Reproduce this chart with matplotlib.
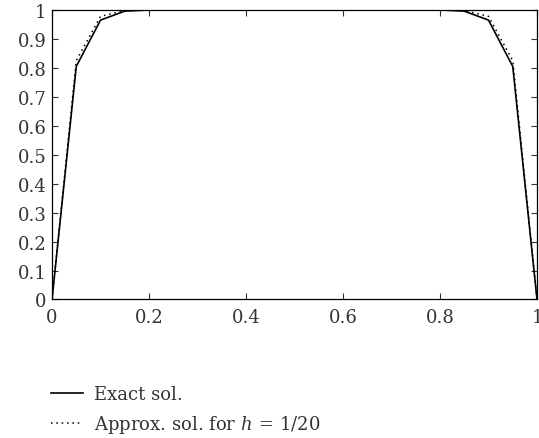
import numpy as np
import matplotlib
matplotlib.use('Agg')
import matplotlib.pyplot as plt

plt.rcParams['font.family'] = 'DejaVu Serif'
plt.rcParams['mathtext.fontset'] = 'dejavuserif'

# grid nodes, h = 1/20
x = np.linspace(0.0, 1.0, 21)
exact = [0.0, 0.805, 0.965, 0.996, 1.0, 1.0, 1.0, 1.0, 1.0, 1.0, 1.0,
         1.0, 1.0, 1.0, 1.0, 1.0, 1.0, 0.996, 0.965, 0.805, 0.0]
approx = [0.0, 0.825, 0.978, 0.998, 1.0, 1.0, 1.0, 1.0, 1.0, 1.0, 1.0,
          1.0, 1.0, 1.0, 1.0, 1.0, 1.0, 0.998, 0.978, 0.825, 0.0]

fig = plt.figure(figsize=(5.39, 4.39), dpi=100)
ax = fig.add_axes([0.0965, 0.3155, 0.8998, 0.6595])

ax.plot(x, exact, color='black', lw=1.2, label='Exact sol.')
ax.plot(x, approx, color='black', lw=1.1, linestyle=(0, (1, 2.5)),
        label=r'Approx. sol. for $h\,=\,1/20$')

ax.set_xlim(0, 1)
ax.set_ylim(0, 1)
ax.set_xticks([0, 0.2, 0.4, 0.6, 0.8, 1])
ax.set_xticklabels(['0', '0.2', '0.4', '0.6', '0.8', '1'])
ax.set_yticks(np.arange(0, 1.01, 0.1))
ax.set_yticklabels(['0', '0.1', '0.2', '0.3', '0.4', '0.5', '0.6', '0.7',
                    '0.8', '0.9', '1'])
ax.tick_params(direction='in', top=True, right=True, length=4, width=0.8,
               labelsize=13, colors='#333333', pad=4)
ax.tick_params(axis='x', pad=6)
for s in ax.spines.values():
    s.set_linewidth(0.9)

fig.legend(loc='upper left', bbox_to_anchor=(0.081, 0.137), frameon=False,
           fontsize=13, handlelength=1.8, handletextpad=0.6, labelspacing=0.55,
           labelcolor='#333333', borderaxespad=0)

fig.savefig('out.png', dpi=100)
